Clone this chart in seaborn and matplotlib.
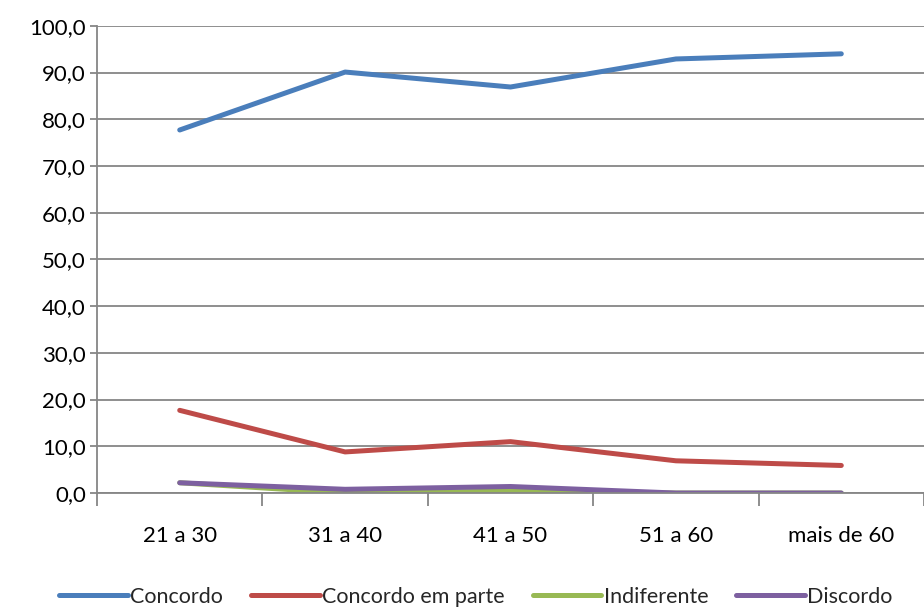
import pandas as pd
import matplotlib
matplotlib.use("Agg")
import matplotlib.pyplot as plt
import seaborn as sns
from matplotlib.ticker import FuncFormatter, FixedLocator

# values
faixas = ["21 a 30", "31 a 40", "41 a 50", "51 a 60", "mais de 60"]
concordo = [77.7, 90.1, 86.9, 92.9, 94.0]
concordo_parte = [17.7, 8.8, 11.0, 6.9, 5.9]
indiferente = [2.2, 0.0, 0.4, 0.0, 0.0]
discordo = [2.2, 0.8, 1.4, 0.0, 0.0]

series = ["Concordo", "Concordo em parte", "Indiferente", "Discordo"]
cores = ["#4A7EBB", "#BE4B48", "#98B954", "#7D60A0"]

df = pd.DataFrame({
    "faixa": faixas * 4,
    "valor": concordo + concordo_parte + indiferente + discordo,
    "serie": [s for s in series for _ in faixas],
})

sns.set_style("white")
plt.rcParams["font.family"] = ["Lato", "DejaVu Sans"]

fig = plt.figure(figsize=(9.24, 6.14), dpi=100)
ax = fig.add_axes([0.105, 0.197, 0.895, 0.761])

sns.lineplot(data=df, x="faixa", y="valor", hue="serie", hue_order=series,
             palette=cores, linewidth=3.6, sort=False, ax=ax, legend=False)

ax.set_xlim(-0.5, 4.5)
ax.set_ylim(0, 100)
ax.set_yticks(range(0, 101, 10))
ax.yaxis.set_major_formatter(FuncFormatter(lambda v, p: f"{v:.1f}".replace(".", ",")))
ax.set_xticks(range(len(faixas)))
ax.set_xticklabels(faixas)
ax.xaxis.set_minor_locator(FixedLocator([i - 0.5 for i in range(len(faixas) + 1)]))

ax.grid(axis="y", color="#868686", linewidth=1.3)
ax.set_axisbelow(True)
for side in ["top", "right"]:
    ax.spines[side].set_visible(False)
for side in ["left", "bottom"]:
    ax.spines[side].set_color("#868686")
    ax.spines[side].set_linewidth(1.3)

ax.tick_params(axis="y", which="major", length=5, width=1.3, color="#868686",
               labelsize=16, left=True, pad=3, labelcolor="#000000")
ax.tick_params(axis="x", which="major", length=0, labelsize=16, pad=24,
               labelcolor="#000000")
ax.tick_params(axis="x", which="minor", length=9, width=1.3, color="#868686",
               bottom=True, direction="out")
ax.set_xlabel("")
ax.set_ylabel("")

handles = [plt.Line2D([0], [0], color=c, linewidth=3.6) for c in cores]
fig.legend(handles, series, loc="lower center", bbox_to_anchor=(0.515, -0.02),
           ncol=4, frameon=False, fontsize=15.5, handlelength=3.2,
           handletextpad=0.1, columnspacing=1.3)

fig.savefig("out.png", dpi=100)
